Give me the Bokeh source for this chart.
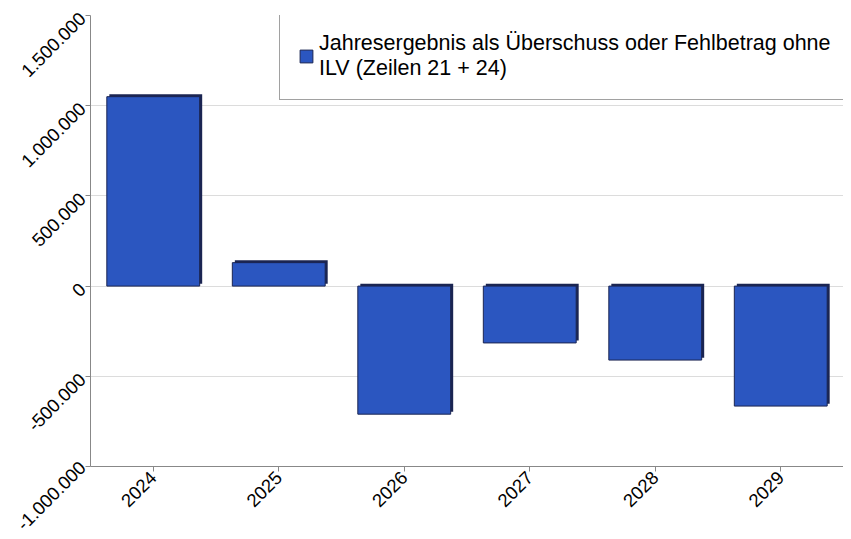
import math
from bokeh.plotting import figure
from bokeh.models import (ColumnDataSource, FactorRange, Range1d, FixedTicker,
                          CustomJSTickFormatter, Legend, LegendItem)
from bokeh.transform import dodge
from bokeh.embed import file_html
from bokeh.resources import INLINE

years = ["2024", "2025", "2026", "2027", "2028", "2029"]
values = [1050000, 130000, -710000, -315000, -410000, -665000]
y_ticks = [-1000000, -500000, 0, 500000, 1000000, 1500000]
series_label = "Jahresergebnis als Überschuss oder Fehlbetrag ohne\nILV (Zeilen 21 + 24)"

FONT = "Liberation Sans"
FILL = "#2b56c0"
EDGE = "#1b2552"
DEPTH_Y = 13000   # ~2.5px of 3D depth
DEPTH_X = 0.02

tops = [max(v, 0) for v in values]
bottoms = [min(v, 0) for v in values]
src = ColumnDataSource(dict(x=years, top=tops, bottom=bottoms,
                            top_s=[t + DEPTH_Y for t in tops],
                            bottom_s=[b + DEPTH_Y for b in bottoms]))

p = figure(width=843, height=531, output_backend="svg", toolbar_location=None,
           x_range=FactorRange(*years, range_padding=0),
           y_range=Range1d(-1000000, 1500000),
           min_border_left=90, min_border_right=0, min_border_top=15,
           min_border_bottom=65)
p.outline_line_color = None
p.background_fill_color = "white"

# 3D depth
p.vbar(x=dodge("x", DEPTH_X, range=p.x_range), top="top_s", bottom="bottom_s",
       width=0.74, source=src, fill_color=EDGE, line_color=None)
main = p.vbar(x="x", top="top", bottom="bottom", width=0.74, source=src,
              fill_color=FILL, line_color=EDGE, line_width=1)

p.xgrid.grid_line_color = None
p.ygrid.grid_line_color = "#dcdcdc"
p.ygrid.ticker = FixedTicker(ticks=y_ticks)

p.yaxis.ticker = FixedTicker(ticks=y_ticks)
p.yaxis.formatter = CustomJSTickFormatter(code="""
var s = Math.abs(tick).toFixed(0).replace(/\\B(?=(\\d{3})+(?!\\d))/g, '.');
return (tick < 0 ? '-' : '') + s;
""")
for ax in (p.xaxis, p.yaxis):
    ax.major_label_orientation = math.pi / 4
    ax.major_label_text_font = FONT
    ax.major_label_text_color = "#000000"
    ax.axis_line_color = "#888888"
    ax.major_tick_line_color = "#888888"
    ax.major_tick_in = 0
    ax.major_tick_out = 5
    ax.minor_tick_line_color = None
    ax.major_label_standoff = 3
p.yaxis.major_label_text_font_size = "18.5px"
p.xaxis.major_label_text_font_size = "18.5px"

legend = Legend(items=[LegendItem(label=series_label, renderers=[main])],
                location=(189, 366), margin=0,
                padding=18, spacing=0, label_standoff=5,
                glyph_width=16, glyph_height=16,
                label_text_font=FONT, label_text_font_size="21.5px",
                label_text_color="#000000",
                label_text_line_height=1.0,
                border_line_color="#444444", border_line_width=1,
                background_fill_color="white", background_fill_alpha=1.0)
p.add_layout(legend)

open("out.html", "w").write(file_html(p, INLINE))
